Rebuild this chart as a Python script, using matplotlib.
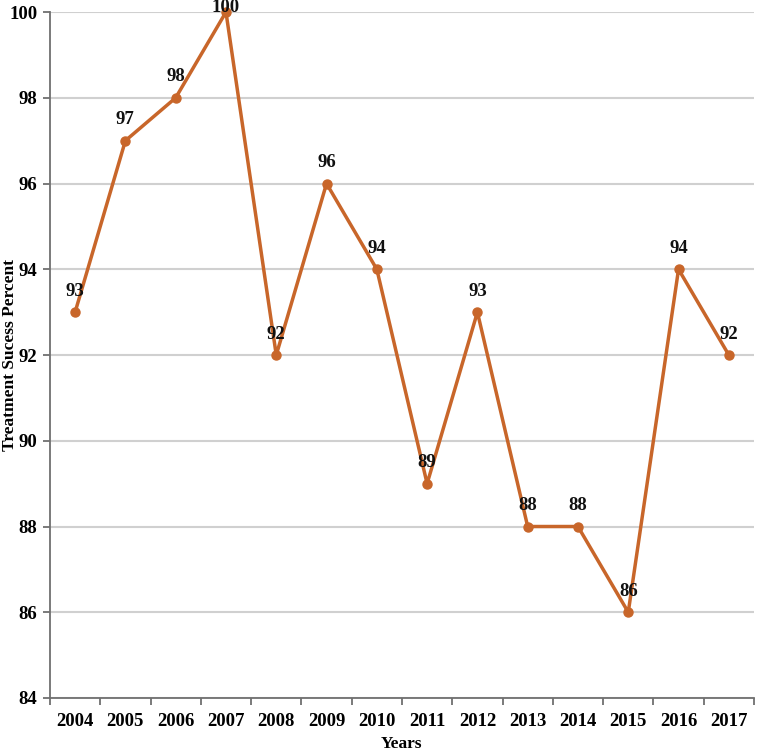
import matplotlib.pyplot as plt
import numpy as np

years = ['2004', '2005', '2006', '2007', '2008', '2009', '2010',
         '2011', '2012', '2013', '2014', '2015', '2016', '2017']
success = [93, 97, 98, 100, 92, 96, 94, 89, 93, 88, 88, 86, 94, 92]

LINE_COLOR = '#C8662A'
plt.rcParams['font.family'] = ['Liberation Serif', 'DejaVu Serif']
plt.rcParams['font.weight'] = 'bold'

fig = plt.figure(figsize=(7.57, 7.55), dpi=100)
ax = fig.add_axes([0.066, 0.0755, 0.930, 0.9085])

x = np.arange(len(years))
ax.plot(x, success, color=LINE_COLOR, lw=2.5, marker='o', ms=6.5,
        clip_on=False, zorder=3)

for xi, v in zip(x, success):
    ty = min(v + 0.49, 100.1)
    ax.text(xi, ty, str(v), ha='center', va='center', fontsize=13.5,
            fontweight='bold', color='#111111', zorder=4)

ax.set_xlim(-0.5, len(years) - 0.5)
ax.set_ylim(84, 100)
ax.set_yticks(range(84, 101, 2))
ax.set_xticks(x)
ax.set_xticklabels(years)
ax.set_xticks(np.arange(-0.5, len(years)), minor=True)

ax.yaxis.grid(True, color='#D0D0D0', lw=1.5)
ax.set_axisbelow(True)
for side in ['top', 'right']:
    ax.spines[side].set_visible(False)
for side in ['left', 'bottom']:
    ax.spines[side].set_color('#707070')
    ax.spines[side].set_linewidth(1.3)

ax.tick_params(axis='x', which='major', length=0, pad=11, labelsize=13.5)
ax.tick_params(axis='x', which='minor', length=5, color='#707070', width=1.3)
ax.tick_params(axis='y', length=5, color='#707070', width=1.3, labelsize=13.5,
               pad=4)

ax.set_ylabel('Treatment Sucess Percent', fontsize=12.5, fontweight='bold')
ax.yaxis.set_label_coords(-0.045, 0.5)
ax.set_xlabel('Years', fontsize=12.5, fontweight='bold')
ax.xaxis.set_label_coords(0.5, -0.056)

fig.savefig('out.png', dpi=100)
